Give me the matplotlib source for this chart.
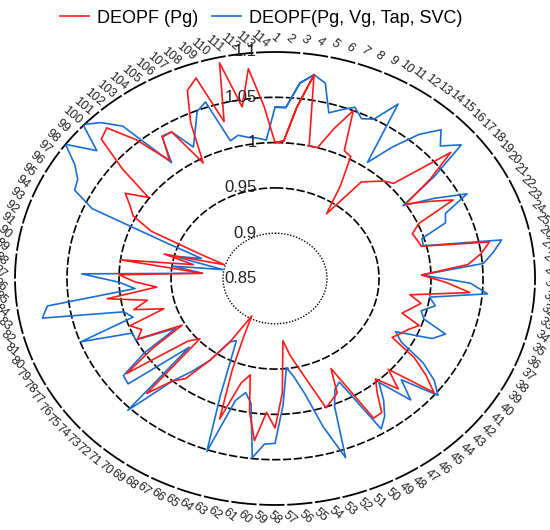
import numpy as np
import matplotlib
matplotlib.use("Agg")
import matplotlib.pyplot as plt

plt.rcParams['font.family'] = ['Liberation Sans', 'DejaVu Sans']

# ---------------- data ----------------
bus = list(range(1, 119))
n_per_turn = 114  # angular positions per full turn (labels 1..114)

v_pg = [1.000, 1.002, 1.040, 1.078, 1.000, 1.000, 1.025, 1.050, 1.006, 1.003,
        0.970, 0.937, 0.985, 0.992, 1.000, 1.005, 1.069, 1.035, 1.000, 1.020,
        1.042, 1.001, 0.991, 0.993, 0.995, 1.060, 1.050, 1.036, 0.991, 1.015,
        1.038, 0.981, 0.993, 0.985, 0.978, 0.998, 0.990, 0.985, 0.980, 1.010,
        1.030, 1.048, 0.998, 1.020, 0.997, 1.010, 1.030, 1.031, 0.963, 0.990,
        0.995, 1.001, 0.970, 0.950, 0.935, 0.919, 0.977, 1.015, 0.998, 1.030,
        0.999, 0.959, 0.970, 1.014, 0.960, 0.920, 0.897, 0.930, 0.960, 0.990,
        1.000, 1.027, 0.948, 0.959, 1.027, 0.990, 0.953, 0.998, 0.990, 0.999,
        0.962, 0.990, 0.975, 1.013, 0.964, 0.985, 1.000, 0.920, 1.000, 0.930,
        0.960, 0.901, 0.927, 0.980, 1.003, 1.011, 1.022, 1.001, 1.040, 1.077,
        1.082, 1.053, 1.015, 1.040, 1.040, 0.995, 1.040, 1.074, 1.084, 1.030,
        1.094, 1.042, 1.083, 1.040, 1.000, 1.002, 1.040, 1.078]

v_all = [1.039, 1.039, 1.067, 1.078, 1.071, 1.040, 1.047, 1.054, 1.045, 1.050,
         1.076, 1.006, 1.034, 1.061, 1.079, 1.066, 1.082, 1.040, 0.997, 1.027,
         1.057, 1.029, 1.025, 0.998, 0.997, 1.072, 1.062, 1.051, 0.991, 1.038,
         1.055, 1.000, 1.007, 0.995, 1.000, 1.025, 1.015, 0.980, 0.990, 1.020,
         1.040, 1.053, 1.015, 1.037, 1.002, 1.020, 1.035, 1.045, 0.980, 0.985,
         1.002, 1.059, 1.020, 0.980, 0.960, 0.949, 0.990, 1.032, 1.033, 1.049,
         0.990, 0.979, 0.990, 1.052, 0.990, 0.950, 0.928, 0.932, 0.960, 0.980,
         1.000, 1.053, 0.962, 1.033, 1.031, 1.000, 0.960, 1.000, 1.000, 1.049,
         0.993, 1.000, 1.078, 1.071, 0.985, 1.000, 1.036, 0.920, 0.950, 0.901,
         0.950, 0.924, 0.960, 1.042, 1.066, 1.069, 1.080, 1.100, 1.072, 1.101,
         1.090, 1.073, 1.012, 1.041, 1.040, 1.015, 1.030, 1.049, 1.056, 1.008,
         1.012, 1.008, 1.006, 1.003, 1.039, 1.039, 1.067, 1.078]

r_rings = [0.9, 0.95, 1.0, 1.05, 1.1]
r_min, r_max = 0.85, 1.1
tick_labels = [str(k) for k in range(1, n_per_turn + 1)]

# ---------------- figure ----------------
fig = plt.figure(figsize=(5.5, 5.3), dpi=100)
ax = fig.add_axes([0.0273, 0.0472, 0.9455, 0.8547], projection='polar')
ax.set_aspect('auto')
ax.set_theta_zero_location('N')
ax.set_theta_direction(-1)
ax.set_rlim(r_min, r_max)
ax.grid(False)
ax.set_xticks([])
ax.set_yticks([])
ax.spines['polar'].set_visible(False)

theta = np.deg2rad((np.array(bus) - 1) * 360.0 / n_per_turn)

# rings
tt = np.linspace(0, 2 * np.pi, 721)
for r in r_rings:
    if r == 0.9:
        ax.plot(tt, np.full_like(tt, r), color='black', lw=1.0, ls=(0, (1, 1.2)), zorder=1)
    elif r == r_max:
        ax.plot(tt, np.full_like(tt, r), color='black', lw=1.3, ls=(0, (14, 1.5)), zorder=1, clip_on=False)
    else:
        ax.plot(tt, np.full_like(tt, r), color='black', lw=1.2, ls=(0, (5, 1.5)), zorder=1)

# series
ax.plot(theta, v_all, color='#1a6fd1', lw=1.2, label='DEOPF(Pg, Vg, Tap, SVC)', zorder=3)
ax.plot(theta, v_pg, color='#ff1a1a', lw=1.2, label='DEOPF (Pg)', zorder=4)

# radial labels
for r in [0.85] + r_rings:
    txt = ('%g' % r)
    ax.annotate(txt, xy=(0, r), xytext=(-13, 0), textcoords='offset points',
                ha='right', va='center', fontsize=12, color='#222222', zorder=5,
                annotation_clip=False)

# angular tick labels
tick_theta = np.deg2rad(np.arange(n_per_turn) * 360.0 / n_per_turn)
for th, lab in zip(tick_theta, tick_labels):
    ax.text(th, r_max + 0.015, lab, rotation=-40, rotation_mode='anchor',
            ha='center', va='center', fontsize=9, color='#222222', clip_on=False)

# legend
h, l = ax.get_legend_handles_labels()
fig.legend([h[1], h[0]], [l[1], l[0]], loc='center', bbox_to_anchor=(0.475, 0.966),
           ncol=2, frameon=False, fontsize=13, handlelength=1.6, columnspacing=0.8,
           handletextpad=0.45)

fig.savefig('out.png', dpi=100)
